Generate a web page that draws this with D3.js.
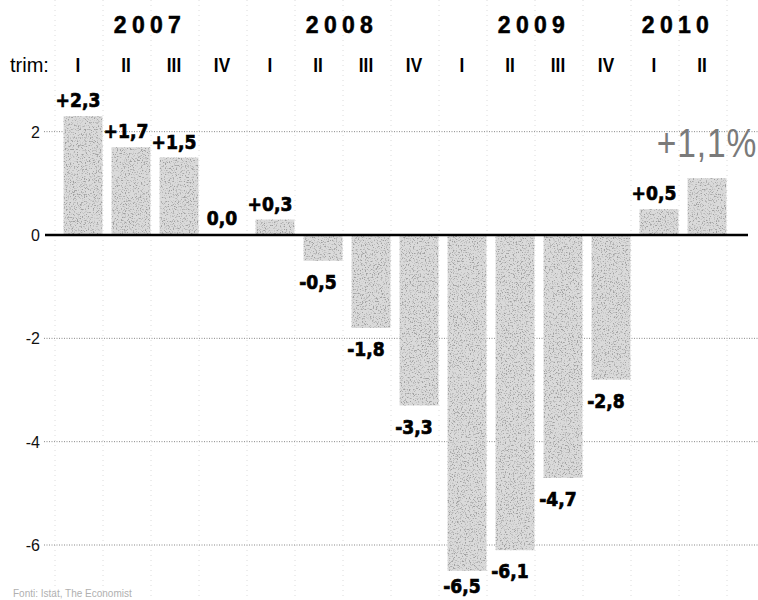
<!DOCTYPE html>
<html>
<head>
<meta charset="utf-8">
<script src="https://cdn.jsdelivr.net/npm/d3@7"></script>
<style>
  html, body { margin: 0; padding: 0; background: #fff; }
  svg { display: block; }
</style>
</head>
<body>
<svg id="chart" width="758" height="600"></svg>
<script>
// ---- data ----
const years = ["2007", "2008", "2009", "2010"];
const quarterYears = ["2007","2007","2007","2007","2008","2008","2008","2008","2009","2009","2009","2009","2010","2010"];
const quarterLabels = ["I","II","III","IV","I","II","III","IV","I","II","III","IV","I","II"];
const values = [2.3, 1.7, 1.5, 0.0, 0.3, -0.5, -1.8, -3.3, -6.5, -6.1, -4.7, -2.8, 0.5, 1.1];
const yTicks = [2, 0, -2, -4, -6];
const trimLabel = "trim:";
const sourceText = "Fonti: Istat, The Economist";

// ---- setup ----
const W = 758, H = 600;
const svg = d3.select("#chart");
const ids = quarterLabels.map((q, i) => i);

const x = d3.scaleBand().domain(ids).range([59, 731]).paddingInner(0.19).paddingOuter(0.095);
const y = d3.scaleLinear().domain([-6, 2]).range([545, 131.67]);
const step = x.step();
const cx = i => x(i) + x.bandwidth() / 2;
const labelShift = -5;

// grain filter for the bars
const defs = svg.append("defs");
const f = defs.append("filter").attr("id", "grain").attr("x", 0).attr("y", 0).attr("width", 1).attr("height", 1);
f.append("feTurbulence").attr("type", "fractalNoise").attr("baseFrequency", 0.75).attr("numOctaves", 2).attr("seed", 7).attr("result", "n");
f.append("feColorMatrix").attr("in", "n").attr("type", "matrix")
  .attr("values", "0 0 0 0 0.35  0 0 0 0 0.35  0 0 0 0 0.35  5 0 0 0 -2.6").attr("result", "dots");
f.append("feComposite").attr("in", "dots").attr("in2", "SourceAlpha").attr("operator", "in").attr("result", "clipped");
const m = f.append("feMerge");
m.append("feMergeNode").attr("in", "SourceGraphic");
m.append("feMergeNode").attr("in", "clipped");

// faint vertical dotted separators
svg.append("g").selectAll("line")
  .data(ids.concat([ids.length]))
  .join("line")
  .attr("x1", i => 59 + i * step - 4).attr("x2", i => 59 + i * step - 4)
  .attr("y1", 0).attr("y2", H)
  .attr("stroke", "#c4c4c4").attr("stroke-width", 1)
  .attr("stroke-dasharray", "1,4").attr("opacity", 0.6);

// horizontal dotted gridlines
svg.append("g").selectAll("line")
  .data(yTicks.filter(t => t !== 0))
  .join("line")
  .attr("x1", 44).attr("x2", W)
  .attr("y1", d => y(d)).attr("y2", d => y(d))
  .attr("stroke", "#888").attr("stroke-width", 1)
  .attr("stroke-dasharray", "1,1.5");

// y axis labels via d3 axis
const yAxis = d3.axisLeft(y).tickValues(yTicks).tickSize(0).tickPadding(0)
  .tickFormat(d => String(d).replace("−", "-"));
const ga = svg.append("g").attr("transform", "translate(40,0)").call(yAxis);
ga.select(".domain").remove();
ga.selectAll("text")
  .attr("font-family", "'Liberation Sans', Arial, sans-serif")
  .attr("font-size", 16).attr("fill", "#111").attr("dy", "0.35em");

// bars
svg.append("g").selectAll("rect")
  .data(values)
  .join("rect")
  .attr("x", (d, i) => x(i))
  .attr("width", x.bandwidth())
  .attr("y", d => y(Math.max(0, d)))
  .attr("height", d => Math.abs(y(d) - y(0)))
  .attr("fill", "#dadada")
  .attr("filter", "url(#grain)");

// zero line
svg.append("line")
  .attr("x1", 45).attr("x2", 748)
  .attr("y1", y(0)).attr("y2", y(0))
  .attr("stroke", "#000").attr("stroke-width", 2.6);

// year labels
svg.append("g").selectAll("text")
  .data(years)
  .join("text")
  .attr("x", yr => d3.mean(ids.filter(i => quarterYears[i] === yr), cx) + labelShift)
  .attr("y", 33)
  .attr("text-anchor", "middle")
  .attr("font-family", "'Liberation Sans', Arial, sans-serif")
  .attr("font-weight", "bold").attr("font-size", 23)
  .attr("letter-spacing", 5.3)
  .attr("stroke", "#000").attr("stroke-width", 0.5)
  .attr("fill", "#000")
  .text(d => d);

// trim label + quarter numerals
svg.append("text")
  .attr("x", 10).attr("y", 72)
  .attr("font-family", "'Liberation Sans', Arial, sans-serif")
  .attr("font-size", 20).attr("fill", "#000")
  .text(trimLabel);

svg.append("g").selectAll("text")
  .data(quarterLabels)
  .join("text")
  .attr("transform", (d, i) => `translate(${cx(i) + labelShift},72) scale(0.82,1)`)
  .attr("text-anchor", "middle")
  .attr("font-family", "'Liberation Sans', Arial, sans-serif")
  .attr("font-weight", "bold").attr("font-size", 21)
  .attr("fill", "#000")
  .text(d => d);

// value labels
const fmt = d => (d > 0 ? "+" : "") + d.toFixed(1).replace(".", ",");
const last = values.length - 1;
svg.append("g").selectAll("text")
  .data(values.slice(0, last))
  .join("text")
  .attr("transform", (d, i) => {
    const ty = d > 0 ? y(d) - 9 : d === 0 ? y(0) - 10 : Math.min(y(d) + 28, H - 7);
    return `translate(${cx(i) + labelShift},${ty}) scale(0.88,1)`;
  })
  .attr("text-anchor", "middle")
  .attr("font-family", "'DejaVu Sans', sans-serif")
  .attr("font-weight", "bold").attr("font-size", 19.5)
  .attr("stroke", "#000").attr("stroke-width", 0.7)
  .attr("fill", "#000")
  .text(fmt);

// highlighted last value
svg.append("text")
  .attr("transform", `translate(${cx(last)},${y(values[last]) - 21}) scale(0.84,1)`)
  .attr("text-anchor", "middle")
  .attr("font-family", "'Liberation Sans', Arial, sans-serif")
  .attr("font-size", 40).attr("letter-spacing", 1)
  .attr("fill", "#7a7a7a")
  .text(fmt(values[last]) + "%");

// source
svg.append("text")
  .attr("x", 13).attr("y", 597)
  .attr("font-family", "'Liberation Sans', Arial, sans-serif")
  .attr("font-size", 10).attr("fill", "#b0b0b0")
  .text(sourceText);
</script>
</body>
</html>
